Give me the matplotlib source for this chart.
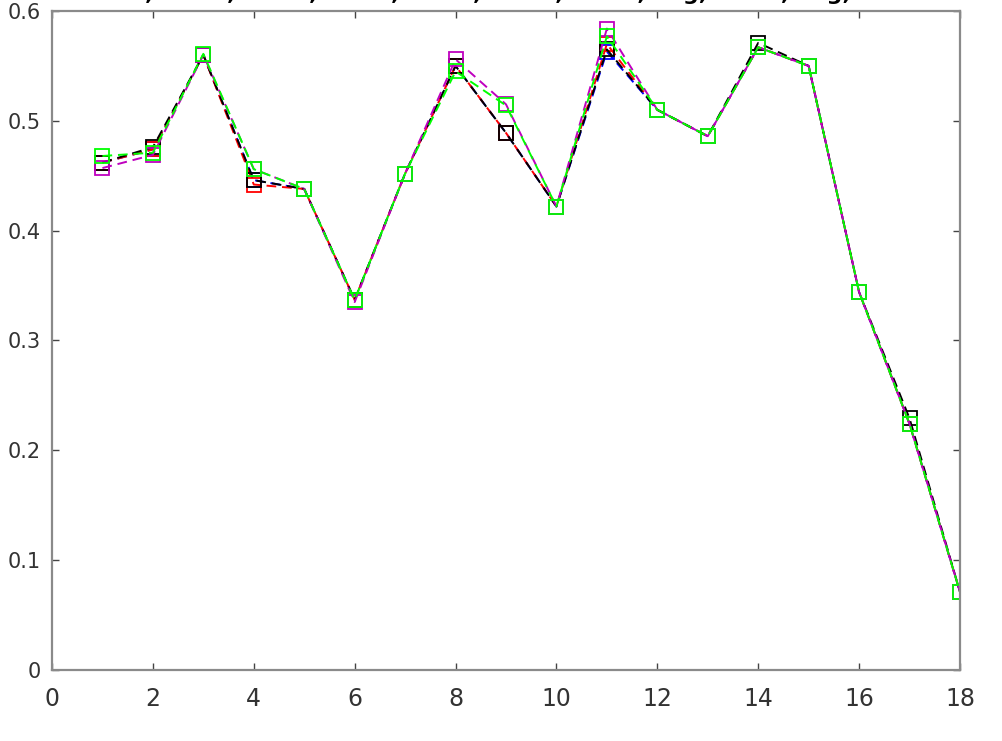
import matplotlib
matplotlib.use("Agg")
import matplotlib.pyplot as plt
import numpy as np

# sample index
x = np.arange(1, 19)

# series values
black = [0.462, 0.476, 0.560, 0.446, 0.438, 0.337, 0.452, 0.550, 0.489,
         0.422, 0.565, 0.510, 0.486, 0.571, 0.550, 0.344, 0.229, 0.071]
red = [0.462, 0.474, 0.560, 0.442, 0.438, 0.337, 0.452, 0.550, 0.489,
       0.422, 0.570, 0.510, 0.486, 0.567, 0.550, 0.344, 0.224, 0.071]
blue = [0.462, 0.474, 0.560, 0.446, 0.438, 0.337, 0.452, 0.550, 0.489,
        0.422, 0.563, 0.510, 0.486, 0.567, 0.550, 0.344, 0.224, 0.071]
magenta = [0.457, 0.469, 0.560, 0.456, 0.438, 0.335, 0.452, 0.556, 0.515,
           0.422, 0.584, 0.510, 0.486, 0.567, 0.550, 0.344, 0.224, 0.071]
green = [0.468, 0.471, 0.561, 0.456, 0.438, 0.337, 0.452, 0.545, 0.514,
         0.422, 0.577, 0.510, 0.486, 0.567, 0.550, 0.344, 0.224, 0.071]

# drawing order: later ones sit on top
series = [(blue, 'b'), (red, 'r'), (black, 'k'), (magenta, 'm'), (green, '#00ff00')]

xticks = np.arange(0, 19, 2)
yticks = [0, 0.1, 0.2, 0.3, 0.4, 0.5, 0.6]
ylabels = ['0', '0.1', '0.2', '0.3', '0.4', '0.5', '0.6']
title = 'run 1, run 2, run 3, run 4, run 5, run 6, run 7, avg, run 8, avg, run 9'

fig = plt.figure(figsize=(10.03, 7.41), dpi=100)
ax = fig.add_axes([52 / 1003, 1 - 670 / 741, 908 / 1003, 659 / 741])

for vals, c in series:
    ax.plot(x, vals, color=c, linestyle=(0, (5, 3)), linewidth=1.4,
            marker='s', markersize=10, markerfacecolor='none',
            markeredgecolor=c, markeredgewidth=1.3)

ax.set_xlim(0, 18)
ax.set_ylim(0, 0.6)
ax.set_xticks(xticks)
ax.set_yticks(yticks)
ax.set_yticklabels(ylabels)

for s in ax.spines.values():
    s.set_color('#8a8a8a')
    s.set_linewidth(1.6)
ax.tick_params(direction='in', length=5, width=1, color='#444444',
               top=True, right=True, labelsize=15, labelcolor='#333333')
ax.tick_params(axis='x', pad=12)
ax.tick_params(axis='y', pad=8)
for lab in ax.get_xticklabels():
    lab.set_fontsize(17)

# title sits mostly above the top edge, as in the source image
fig.text(0.5, 1 + 0.5 / 741, title, ha='center', va='baseline',
         fontsize=16, fontweight='bold')

fig.savefig('out.png', dpi=100)
